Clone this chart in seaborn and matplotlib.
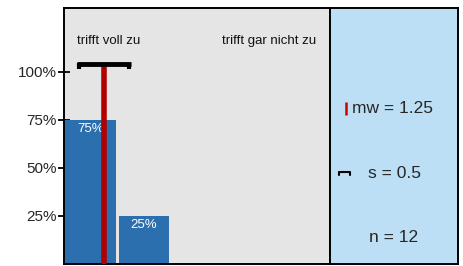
import matplotlib
matplotlib.use("Agg")
import matplotlib.pyplot as plt
import seaborn as sns
import pandas as pd

categories = ["1", "2", "3", "4", "5"]
shares = [0.75, 0.25, 0.0, 0.0, 0.0]
bar_labels = ["75%", "25%", "", "", ""]
ytick_vals = [0.25, 0.5, 0.75, 1.0]
ytick_labels = ["25%", "50%", "75%", "100%"]
mean_val = 1.25
sd_val = 0.5
n_val = 12
left_label = "trifft voll zu"
right_label = "trifft gar nicht zu"

sns.set_style("white")
plt.rcParams["font.family"] = ["Liberation Sans", "DejaVu Sans"]

fig = plt.figure(figsize=(4.63, 2.66), dpi=100)
ax = fig.add_axes([64/463, 2/266, 266/463, 256/266])
ax2 = fig.add_axes([330/463, 2/266, 128/463, 256/266])

df = pd.DataFrame({"cat": categories, "share": shares})
sns.barplot(data=df, x="cat", y="share", order=categories, color="#2c6fae",
            saturation=1, width=0.95, ax=ax, edgecolor="none")
ax.set_facecolor("#e5e5e5")
ax.set_xlim(-0.5, 4.5)
ax.set_ylim(0, 1.333)
ax.set_xlabel("")
ax.set_ylabel("")
ax.set_xticks([])
ax.set_yticks(ytick_vals)
ax.set_yticklabels(ytick_labels, fontsize=11)
ax.tick_params(axis="y", direction="inout", length=8, width=1.3, color="black", pad=1, left=True)
for sp in ax.spines.values():
    sp.set_color("black")
    sp.set_linewidth(1.4)

for i, (v, lab) in enumerate(zip(shares, bar_labels)):
    if lab:
        ax.text(i, v - 0.018, lab, ha="center", va="top", color="white", fontsize=9.5)

mpos = mean_val - 1
ax.plot([mpos, mpos], [0, 1.03], color="#b00000", lw=4, solid_capstyle="butt", zorder=5)
ax.plot([mpos - sd_val, mpos + sd_val], [1.04, 1.04], color="black", lw=3.5, solid_capstyle="butt", zorder=6)
for xe in (mpos - sd_val + 0.035, mpos + sd_val - 0.035):
    ax.plot([xe, xe], [1.045, 1.015], color="black", lw=3, solid_capstyle="butt", zorder=6)

ax.text(0.336, 1.16, left_label, ha="center", va="center", fontsize=9.5, color="#111111")
ax.text(3.36, 1.16, right_label, ha="center", va="center", fontsize=9.5, color="#111111")

ax2.set_facecolor("#bcdff5")
ax2.set_xlim(0, 1)
ax2.set_ylim(0, 1)
ax2.set_xticks([])
ax2.set_yticks([])
for sp in ax2.spines.values():
    sp.set_color("black")
    sp.set_linewidth(1.4)
ax2.plot([0.125, 0.125], [0.582, 0.633], color="#d00000", lw=1.8, solid_capstyle="butt")
ax2.text(0.17, 0.609, f"mw = {mean_val}", ha="left", va="center", fontsize=12.5)
ax2.plot([0.07, 0.07, 0.16, 0.16], [0.347, 0.36, 0.36, 0.347], color="black", lw=1.5)
ax2.text(0.504, 0.355, f"s = {sd_val}", ha="center", va="center", fontsize=12.5)
ax2.text(0.5, 0.105, f"n = {n_val}", ha="center", va="center", fontsize=12.5)

fig.savefig("out.png", dpi=100)
